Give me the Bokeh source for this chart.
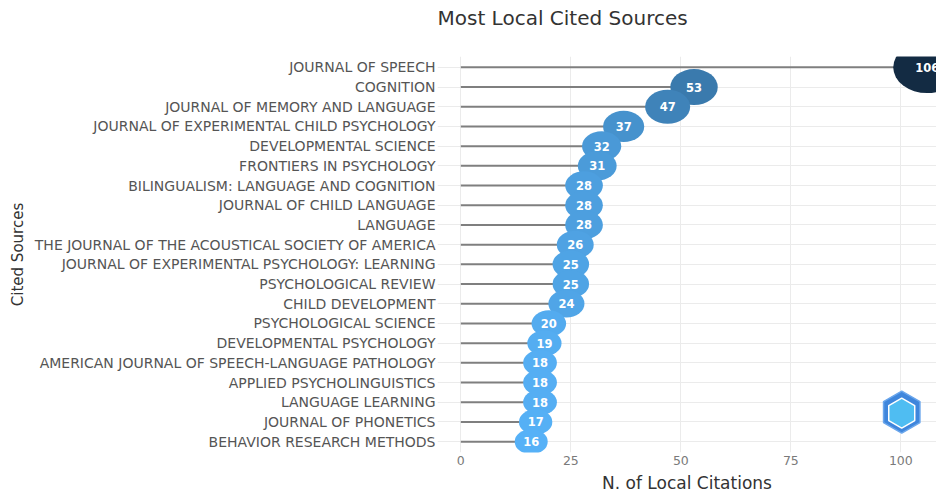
import math
from bokeh.plotting import figure
from bokeh.models import ColumnDataSource, Range1d, FactorRange, Title, FixedTicker
from bokeh.transform import dodge
from bokeh.core.properties import value
from bokeh.embed import file_html
from bokeh.resources import INLINE

sources = [
    "JOURNAL OF SPEECH",
    "COGNITION",
    "JOURNAL OF MEMORY AND LANGUAGE",
    "JOURNAL OF EXPERIMENTAL CHILD PSYCHOLOGY",
    "DEVELOPMENTAL SCIENCE",
    "FRONTIERS IN PSYCHOLOGY",
    "BILINGUALISM: LANGUAGE AND COGNITION",
    "JOURNAL OF CHILD LANGUAGE",
    "LANGUAGE",
    "THE JOURNAL OF THE ACOUSTICAL SOCIETY OF AMERICA",
    "JOURNAL OF EXPERIMENTAL PSYCHOLOGY: LEARNING",
    "PSYCHOLOGICAL REVIEW",
    "CHILD DEVELOPMENT",
    "PSYCHOLOGICAL SCIENCE",
    "DEVELOPMENTAL PSYCHOLOGY",
    "AMERICAN JOURNAL OF SPEECH-LANGUAGE PATHOLOGY",
    "APPLIED PSYCHOLINGUISTICS",
    "LANGUAGE LEARNING",
    "JOURNAL OF PHONETICS",
    "BEHAVIOR RESEARCH METHODS",
]
citations = [106, 53, 47, 37, 32, 31, 28, 28, 28, 26, 25, 25, 24, 20, 19, 18, 18, 18, 17, 16]
x_ticks = [0, 25, 50, 75, 100]

FONT = "DejaVu Sans"
LOW, HIGH = (0x56, 0xB1, 0xF7), (0x13, 0x2B, 0x43)
vmin, vmax = min(citations), max(citations)


def colour(v):
    t = (v - vmin) / (vmax - vmin)
    r, g, b = (round(lo + (hi - lo) * t) for lo, hi in zip(LOW, HIGH))
    return "#%02x%02x%02x" % (r, g, b)


widths = [26.8 + 0.389 * v for v in citations]
heights = [w / 1.32 for w in widths]

src = ColumnDataSource(dict(
    source=sources,
    value=citations,
    label=[str(v) for v in citations],
    color=[colour(v) for v in citations],
    w=widths,
    h=heights,
))

p = figure(
    width=936, height=495,
    y_range=FactorRange(factors=list(reversed(sources)), range_padding=0.05, range_padding_units="absolute"),
    x_range=Range1d(-5.3, 108.1),
    output_backend="svg", toolbar_location=None,
    min_border_left=437, min_border_right=0, min_border_top=55, min_border_bottom=43,
)
p.outline_line_color = None
p.background_fill_color = "white"

# a blank second line lifts the title towards the top edge
p.add_layout(Title(text="Most Local Cited Sources\n ", align="left",
                   text_font=FONT, text_font_size="20px", text_font_style="normal",
                   text_color="#333333", standoff=6), "above")

p.segment(x0=0, y0="source", x1="value", y1="source", source=src,
          line_color="#7f7f7f", line_width=2)
p.ellipse(x="value", y="source", width="w", height="h", width_units="screen",
          height_units="screen", fill_color="color", line_color=None, source=src)
p.text(x="value", y="source", text="label", source=src, text_align="center",
       text_baseline="middle", text_color="white", text_font=value(FONT),
       text_font_style="bold", text_font_size="11.5px")

# decorative logo in the lower-right corner
logo = ColumnDataSource(dict(x=[100.2], y=[sources[-2]]))
p.scatter(x="x", y=dodge("y", 0.5, range=p.y_range), source=logo, marker="hex",
          angle=math.pi / 6, size=42, fill_color="#3f86dc", line_color="#6aa6ec", line_width=1.5)
p.scatter(x="x", y=dodge("y", 0.45, range=p.y_range), source=logo, marker="hex",
          angle=math.pi / 6, size=30, fill_color="#4fbdf2", line_color="white", line_width=1.5)

# grid
p.xgrid.ticker = FixedTicker(ticks=x_ticks)
p.xaxis.ticker = FixedTicker(ticks=x_ticks)
p.xgrid.grid_line_color = "#ebebeb"
p.ygrid.grid_line_color = "#ebebeb"

# axes
for ax in (p.xaxis[0], p.yaxis[0]):
    ax.axis_line_color = None
    ax.major_tick_line_color = None
    ax.minor_tick_line_color = None
    ax.major_tick_out = 0
    ax.major_tick_in = 0
    ax.axis_label_text_font = FONT
    ax.axis_label_text_font_style = "normal"
    ax.axis_label_text_color = "#333333"
    ax.major_label_text_font = FONT

p.yaxis.axis_label = "Cited Sources"
p.yaxis.axis_label_text_font_size = "15px"
p.yaxis.major_label_text_font_size = "14px"
p.yaxis.major_label_text_color = "#555555"
p.yaxis.major_label_standoff = 2
p.yaxis.axis_label_standoff = 5

p.xaxis.axis_label = "N. of Local Citations"
p.xaxis.axis_label_text_font_size = "17px"
p.xaxis.major_label_text_font_size = "12.5px"
p.xaxis.major_label_text_color = "#7a7a7a"
p.xaxis.major_label_standoff = 3
p.xaxis.axis_label_standoff = 5

open("out.html", "w").write(file_html(p, INLINE))
